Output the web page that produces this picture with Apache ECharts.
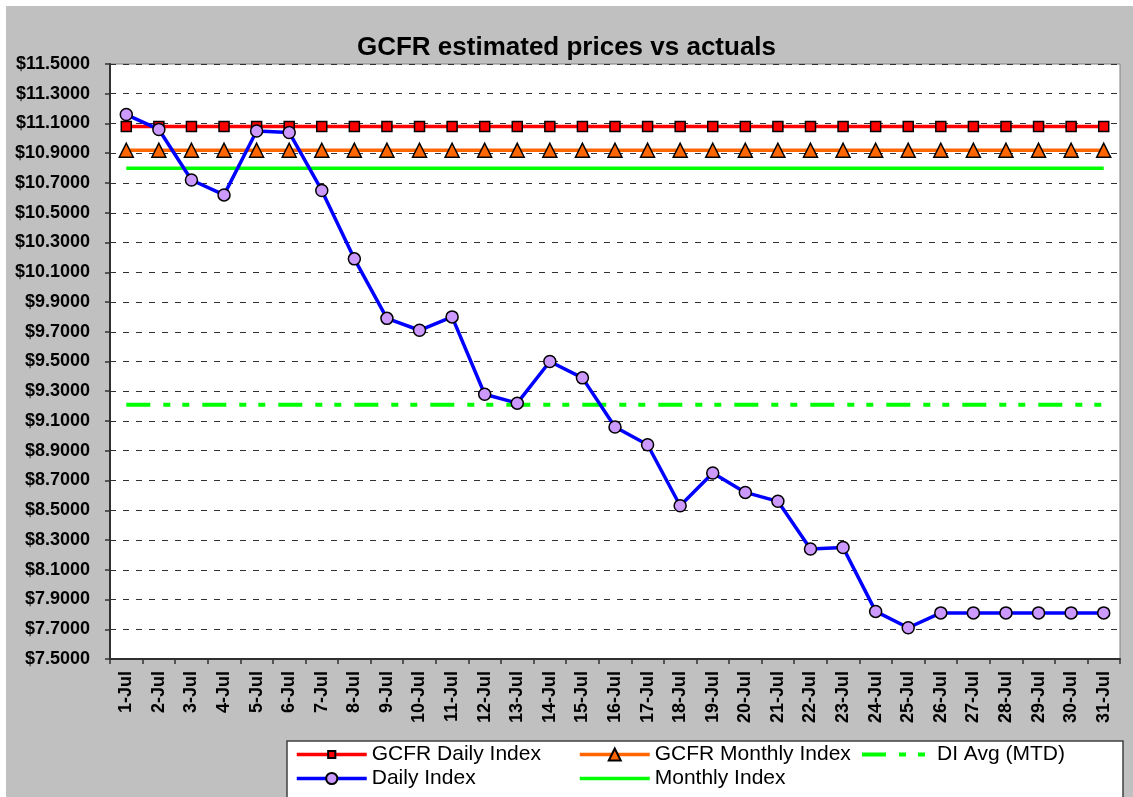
<!DOCTYPE html>
<html>
<head>
<meta charset="utf-8">
<script src="https://cdn.jsdelivr.net/npm/echarts@6/dist/echarts.min.js"></script>
<style>
html,body{margin:0;padding:0;background:#fff;}
#c{width:1133px;height:797px;}
</style>
</head>
<body>
<div id="c"></div>
<script>
const categories = ['1-Jul','2-Jul','3-Jul','4-Jul','5-Jul','6-Jul','7-Jul','8-Jul','9-Jul','10-Jul',
  '11-Jul','12-Jul','13-Jul','14-Jul','15-Jul','16-Jul','17-Jul','18-Jul','19-Jul','20-Jul',
  '21-Jul','22-Jul','23-Jul','24-Jul','25-Jul','26-Jul','27-Jul','28-Jul','29-Jul','30-Jul','31-Jul'];

const gcfrDailyIndex = [11.08,11.08,11.08,11.08,11.08,11.08,11.08,11.08,11.08,11.08,
  11.08,11.08,11.08,11.08,11.08,11.08,11.08,11.08,11.08,11.08,
  11.08,11.08,11.08,11.08,11.08,11.08,11.08,11.08,11.08,11.08,11.08];

const gcfrMonthlyIndex = [10.92,10.92,10.92,10.92,10.92,10.92,10.92,10.92,10.92,10.92,
  10.92,10.92,10.92,10.92,10.92,10.92,10.92,10.92,10.92,10.92,
  10.92,10.92,10.92,10.92,10.92,10.92,10.92,10.92,10.92,10.92,10.92];

const diAvgMTD = [9.21,9.21,9.21,9.21,9.21,9.21,9.21,9.21,9.21,9.21,
  9.21,9.21,9.21,9.21,9.21,9.21,9.21,9.21,9.21,9.21,
  9.21,9.21,9.21,9.21,9.21,9.21,9.21,9.21,9.21,9.21,9.21];

const dailyIndex = [11.16,11.06,10.72,10.62,11.05,11.04,10.65,10.19,9.79,9.71,
  9.80,9.28,9.22,9.50,9.39,9.06,8.94,8.53,8.75,8.62,
  8.56,8.24,8.25,7.82,7.71,7.81,7.81,7.81,7.81,7.81,7.81];

const monthlyIndex = [10.80,10.80,10.80,10.80,10.80,10.80,10.80,10.80,10.80,10.80,
  10.80,10.80,10.80,10.80,10.80,10.80,10.80,10.80,10.80,10.80,
  10.80,10.80,10.80,10.80,10.80,10.80,10.80,10.80,10.80,10.80,10.80];

const yMin = 7.5, yMax = 11.5, yStep = 0.2;

const FONT = '"Liberation Sans", Arial, sans-serif';
const chart = echarts.init(document.getElementById('c'), null, {renderer:'canvas'});

const diDash = [24,13,7,12,7,13];

function legendAt(name, left, top, itemHeight, lineWidth, hideSymbol){
  const l = {
    data:[name], left:left, top:top, orient:'horizontal', padding:0,
    itemWidth:70, itemHeight:itemHeight, selectedMode:false,
    lineStyle:{width:lineWidth},
    textStyle:{fontFamily:FONT, fontSize:21, color:'#000'}
  };
  if (hideSymbol) {
    l.itemStyle = {color:'rgba(0,0,0,0)', borderColor:'rgba(0,0,0,0)', borderWidth:0, opacity:0};
  }
  return l;
}

chart.setOption({
  animation:false,
  backgroundColor:'#ffffff',
  graphic:[
    {type:'rect', z:-10, shape:{x:6,y:6,width:1127,height:791}, style:{fill:'#c0c0c0'}},
    {type:'rect', z:-5, shape:{x:287,y:741,width:836,height:70}, style:{fill:'#ffffff', stroke:'#404040', lineWidth:1.5}}
  ],
  title:{
    text:'GCFR estimated prices vs actuals',
    left:'center', top:30,
    textStyle:{fontFamily:FONT, fontSize:26, fontWeight:'bold', color:'#000'}
  },
  legend:[
    legendAt('GCFR Daily Index', 295, 744, 9, 3.5, false),
    legendAt('GCFR Monthly Index', 578, 744, 15, 3.5, false),
    legendAt('DI Avg (MTD)', 860, 744, 14, 4, true),
    legendAt('Daily Index', 295, 768, 14, 3.5, false),
    legendAt('Monthly Index', 578, 768, 14, 3.5, true)
  ],
  grid:{left:110, right:13, top:64, bottom:138, show:true, backgroundColor:'#ffffff', borderColor:'#808080', borderWidth:1},
  xAxis:{
    type:'category', data:categories, boundaryGap:true,
    axisLine:{lineStyle:{color:'#303030', width:2}},
    axisTick:{show:true, length:5, lineStyle:{color:'#303030', width:1.5}},
    axisLabel:{rotate:90, interval:0, margin:12, fontFamily:FONT, fontSize:18, fontWeight:'bold', color:'#000'},
    splitLine:{show:false}
  },
  yAxis:{
    type:'value', min:yMin, max:yMax, interval:yStep,
    axisLine:{show:true, lineStyle:{color:'#303030', width:2}},
    axisTick:{show:true, length:5, lineStyle:{color:'#303030', width:1.5}},
    axisLabel:{margin:20, fontFamily:FONT, fontSize:18, fontWeight:'bold', color:'#000',
      formatter:function(v){return '$' + v.toFixed(4);}},
    splitLine:{show:true, lineStyle:{color:'#303030', width:1, type:[6,7]}}
  },
  series:[
    {name:'Monthly Index', type:'line', data:monthlyIndex, symbol:'none', z:2,
      lineStyle:{color:'#00ff00', width:3.5}, itemStyle:{color:'#00ff00'}},
    {name:'DI Avg (MTD)', type:'line', data:diAvgMTD, symbol:'none', z:2,
      lineStyle:{color:'#00ff00', width:4, type:diDash}, itemStyle:{color:'#00ff00'}},
    {name:'GCFR Monthly Index', type:'line', data:gcfrMonthlyIndex, symbol:'triangle', symbolSize:14, z:3,
      lineStyle:{color:'#ff6600', width:3.5}, itemStyle:{color:'#ff6600', borderColor:'#000', borderWidth:1.5}},
    {name:'GCFR Daily Index', type:'line', data:gcfrDailyIndex, symbol:'rect', symbolSize:10, z:4,
      lineStyle:{color:'#ff0000', width:3.5}, itemStyle:{color:'#ff0000', borderColor:'#000', borderWidth:1.5}},
    {name:'Daily Index', type:'line', data:dailyIndex, symbol:'circle', symbolSize:12, z:5,
      lineStyle:{color:'#0000ff', width:3.5}, itemStyle:{color:'#cc99ff', borderColor:'#000', borderWidth:1.5}}
  ]
});
</script>
</body>
</html>
